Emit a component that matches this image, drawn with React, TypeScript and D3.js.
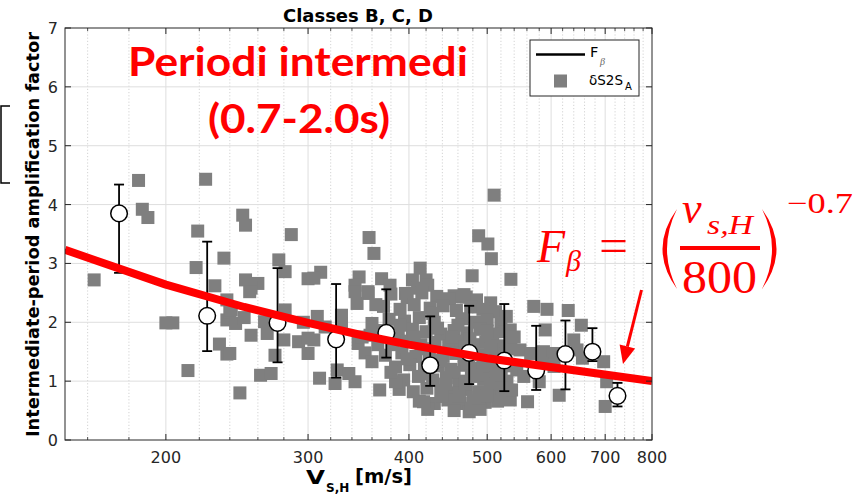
import React from "react";
import * as d3 from "d3";

// ---------- data ----------
const xTickValues = [200, 300, 400, 500, 600, 700, 800];
const xMinorValues = [160, 180, 220, 240, 260, 280, 320, 340, 360, 380, 420, 440, 460, 480,
  520, 540, 560, 580, 620, 640, 660, 680, 720, 740, 760, 780];
const yTickValues = [0, 1, 2, 3, 4, 5, 6, 7];

const binVs = [175, 225, 275, 325, 375, 425, 475, 525, 575, 625, 675, 725];
const binMean = [3.85, 2.11, 1.99, 1.71, 1.82, 1.27, 1.48, 1.35, 1.18, 1.46, 1.5, 0.75];
const binLow = [2.84, 1.51, 1.32, 1.06, 1.4, 0.92, 0.95, 0.83, 0.85, 0.86, 1.34, 0.57];
const binHigh = [4.34, 3.37, 2.92, 2.65, 2.56, 2.1, 2.28, 2.31, 1.94, 2.03, 1.9, 0.97];

const curveVs = [150, 200, 250, 300, 350, 400, 450, 500, 800];
const curveF = [3.23, 2.64, 2.26, 1.99, 1.78, 1.62, 1.5, 1.39, 1.0];

const leftGroup: [number, number][] = [
  [163, 2.72], [185, 4.41], [224, 4.43], [187, 3.92], [190, 3.78], [219, 3.55], [236, 3.09],
  [218, 2.93], [230, 2.62], [238, 2.38], [200, 1.99], [204, 1.99], [238, 2.04], [233, 1.63],
  [238, 1.46], [213, 1.18], [240, 2.18], [244, 1.98], [249, 3.82], [251, 3.65], [286, 3.49],
  [276, 3.06], [281, 2.86], [251, 2.72], [260, 2.66], [255, 2.58], [254, 2.52], [241, 2.21],
  [255, 1.78], [240, 1.47], [265, 2.01], [250, 2.08], [281, 2.21], [267, 1.81], [280, 1.7],
  [273, 1.44], [262, 1.1], [270, 1.13], [247, 0.8],
];

const midGroup: [number, number][] = [
  [292, 1.67], [300, 1.47], [308, 2.1], [305, 1.7], [315, 1.92], [296, 2.0], [300, 1.73],
  [300, 2.74], [311, 2.85], [305, 2.75], [310, 1.05], [324, 0.96], [326, 1.19], [337, 1.13],
  [343, 0.99], [330, 1.98], [330, 2.12], [357, 3.44], [362, 3.17], [347, 2.77], [343, 2.63],
  [356, 2.52], [343, 2.52], [356, 2.49], [345, 2.32], [364, 2.3], [353, 1.48], [360, 1.33],
  [360, 1.98], [346, 1.64], [358, 1.78], [366, 1.62], [350, 1.75],
  [370, 2.74], [379, 2.63], [404, 2.72], [420, 2.72], [410, 2.58], [422, 2.63], [396, 2.49],
  [413, 2.92], [460, 2.43], [471, 2.43], [455, 2.45], [479, 2.79], [510, 4.16], [488, 3.47],
  [501, 3.33], [506, 3.08], [535, 2.73],
];

const denseGroup: [number, number][] = [
  [380, 2.48], [398, 2.42], [415, 2.5], [433, 2.44], [449, 2.4], [468, 2.47], [485, 2.38], [505, 2.33],
  [372, 2.27], [390, 2.22], [406, 2.3], [425, 2.24], [441, 2.28], [458, 2.2], [477, 2.26], [494, 2.22], [512, 2.18], [528, 2.1],
  [378, 2.05], [395, 2.02], [412, 2.08], [430, 2.0], [465, 2.06], [484, 2.0], [500, 2.04], [520, 1.98],
  [371, 1.86], [388, 1.82], [404, 1.88], [420, 1.84], [438, 1.8], [455, 1.86], [472, 1.82], [490, 1.88], [508, 1.8], [526, 1.84],
  [382, 1.62], [398, 1.68], [414, 1.62], [431, 1.66], [448, 1.6], [464, 1.68], [481, 1.62], [498, 1.66], [516, 1.6], [535, 1.64],
  [374, 1.44], [392, 1.48], [408, 1.42], [424, 1.46], [441, 1.42], [457, 1.47], [474, 1.4], [491, 1.45], [509, 1.42], [527, 1.46],
  [385, 1.24], [401, 1.28], [418, 1.22], [435, 1.26], [451, 1.2], [468, 1.27], [485, 1.22], [502, 1.24], [520, 1.2], [538, 1.26],
  [394, 1.02], [411, 1.08], [428, 1.02], [445, 1.06], [461, 1.0], [478, 1.08], [495, 1.03], [512, 1.06], [529, 1.0],
  [389, 0.86], [405, 0.82], [421, 0.88], [438, 0.84], [455, 0.8], [471, 0.86], [488, 0.82], [505, 0.86], [522, 0.84],
  [412, 0.66], [430, 0.62], [447, 0.68], [463, 0.62], [480, 0.66], [497, 0.64], [515, 0.66],
  [422, 0.52], [455, 0.5], [475, 0.48], [490, 0.52],
  [368, 0.85], [385, 0.99], [417, 0.65], [478, 0.54], [534, 0.68], [536, 0.85],
];

const fillGroup: [number, number][] = [
  [390, 1.95], [406, 1.75], [422, 1.55], [438, 1.35], [455, 1.15], [470, 0.95], [488, 0.72],
  [505, 1.55], [460, 1.95], [476, 1.72], [494, 1.32], [512, 0.95], [428, 2.15], [444, 0.95],
  [420, 1.12], [398, 1.38], [380, 1.15], [500, 1.85], [516, 1.35], [470, 1.58], [452, 1.75],
  [434, 1.9], [485, 1.1], [462, 0.74], [440, 0.74], [500, 0.75], [520, 1.1], [530, 1.55],
];

const rightGroup: [number, number][] = [
  [571, 2.27], [593, 2.22], [630, 2.2], [654, 1.95], [534, 1.87], [540, 1.75], [590, 1.87],
  [549, 1.53], [566, 1.47], [587, 1.5], [604, 1.47], [640, 1.7], [646, 1.53], [656, 1.39],
  [697, 1.33], [703, 0.99], [544, 1.19], [555, 1.08], [580, 0.99], [614, 0.76], [561, 0.65],
  [700, 0.57], [585, 1.3], [605, 1.25],
];

// ---------- chart ----------
const AXIS = "#262626";
const FONT = "DejaVu Sans, sans-serif";
const SERIF = "Liberation Serif, Times New Roman, serif";

export default function App() {
  const x = d3.scaleLog().domain([150, 800]).range([65, 652]);
  const y = d3.scaleLinear().domain([0, 7]).range([440, 28]);
  const [x0, x1] = x.range();
  const [y0, y1] = y.range();

  const line = d3.line<[number, number]>().x((d) => x(d[0])).y((d) => y(d[1]));
  const curve: [number, number][] = curveVs.map((v, i) => [v, curveF[i]]);
  const squares = [...leftGroup, ...midGroup, ...denseGroup, ...fillGroup, ...rightGroup];
  const sq = 13;

  // arrow geometry
  const aStart = [641.5, 290];
  const aTip = [623, 364];
  const dx = aTip[0] - aStart[0], dy = aTip[1] - aStart[1];
  const len = Math.hypot(dx, dy);
  const ux = dx / len, uy = dy / len;
  const hl = 18, hw = 8;
  const bx = aTip[0] - ux * hl, by = aTip[1] - uy * hl;
  const head = `M${aTip[0]},${aTip[1]} L${bx + uy * hw},${by - ux * hw} L${bx - uy * hw},${by + ux * hw} Z`;

  return (
    <svg width={866} height={494} style={{ position: "absolute", left: 0, top: 0, background: "#fff" }}
      xmlns="http://www.w3.org/2000/svg">
      <defs>
        <clipPath id="plotclip">
          <rect x={x0} y={y1} width={x1 - x0} height={y0 - y1} />
        </clipPath>
      </defs>
      <rect x={0} y={0} width={866} height={494} fill="#fff" />

      {/* grid */}
      {xMinorValues.map((v) => (
        <line key={"mg" + v} x1={x(v)} x2={x(v)} y1={y1} y2={y0} stroke="#c8c8c8" strokeWidth={0.8} strokeDasharray="1.2,2" />
      ))}
      {xTickValues.filter((v) => v < 800).map((v) => (
        <line key={"g" + v} x1={x(v)} x2={x(v)} y1={y1} y2={y0} stroke="#dedede" strokeWidth={1} />
      ))}
      {yTickValues.filter((v) => v > 0 && v < 7).map((v) => (
        <line key={"gy" + v} x1={x0} x2={x1} y1={y(v)} y2={y(v)} stroke="#dedede" strokeWidth={1} />
      ))}

      <g clipPath="url(#plotclip)">
        {squares.map((d, i) => (
          <rect key={"s" + i} x={x(d[0]) - sq / 2} y={y(d[1]) - sq / 2} width={sq} height={sq} fill="#7f7f7f" />
        ))}
        <path d={line(curve) || ""} fill="none" stroke="#000" strokeWidth={2} />
        {binVs.map((v, i) => (
          <g key={"e" + i} stroke="#000" strokeWidth={1.8}>
            <line x1={x(v)} x2={x(v)} y1={y(binLow[i])} y2={y(binHigh[i])} />
            <line x1={x(v) - 5} x2={x(v) + 5} y1={y(binLow[i])} y2={y(binLow[i])} />
            <line x1={x(v) - 5} x2={x(v) + 5} y1={y(binHigh[i])} y2={y(binHigh[i])} />
          </g>
        ))}
        {binVs.map((v, i) => (
          <circle key={"c" + i} cx={x(v)} cy={y(binMean[i])} r={8.3} fill="#fff" stroke="#000" strokeWidth={1.5} />
        ))}
        <path d={line(curve) || ""} fill="none" stroke="#ff0000" strokeWidth={8} strokeLinejoin="round" />
      </g>

      {/* axes box and ticks */}
      <rect x={x0} y={y1} width={x1 - x0} height={y0 - y1} fill="none" stroke={AXIS} strokeWidth={1} />
      {xTickValues.map((v) => (
        <g key={"xt" + v} stroke={AXIS} strokeWidth={1}>
          <line x1={x(v)} x2={x(v)} y1={y0} y2={y0 - 6} />
          <line x1={x(v)} x2={x(v)} y1={y1} y2={y1 + 6} />
        </g>
      ))}
      {xMinorValues.map((v) => (
        <g key={"xm" + v} stroke={AXIS} strokeWidth={0.8}>
          <line x1={x(v)} x2={x(v)} y1={y0} y2={y0 - 3} />
          <line x1={x(v)} x2={x(v)} y1={y1} y2={y1 + 3} />
        </g>
      ))}
      {yTickValues.map((v) => (
        <g key={"yt" + v} stroke={AXIS} strokeWidth={1}>
          <line x1={x0} x2={x0 + 6} y1={y(v)} y2={y(v)} />
          <line x1={x1} x2={x1 - 6} y1={y(v)} y2={y(v)} />
        </g>
      ))}
      {xTickValues.map((v) => (
        <text key={"xl" + v} x={x(v)} y={463} textAnchor="middle" fontFamily={FONT} fontSize={16} fill={AXIS}>
          {d3.format("d")(v)}
        </text>
      ))}
      {yTickValues.map((v) => (
        <text key={"yl" + v} x={58} y={y(v) + 6} textAnchor="end" fontFamily={FONT} fontSize={16} fill={AXIS}>
          {v}
        </text>
      ))}

      {/* titles */}
      <text x={358} y={22} textAnchor="middle" fontFamily={FONT} fontSize={17} fontWeight="bold" fill="#000"
        textLength={150} lengthAdjust="spacingAndGlyphs">Classes B, C, D</text>
      <text transform="translate(39,234.5) rotate(-90)" textAnchor="middle" fontFamily={FONT} fontSize={17.5}
        fontWeight="bold" fill="#000" textLength={405} lengthAdjust="spacingAndGlyphs">
        Intermediate-period amplification factor
      </text>
      <text x={306} y={484} fontFamily={FONT} fontSize={20} fontWeight="bold" fill="#000"
        textLength={19} lengthAdjust="spacingAndGlyphs">V</text>
      <text x={326} y={492} fontFamily={FONT} fontSize={12} fontWeight="bold" fill="#000">S,H</text>
      <text x={355} y={483} fontFamily={FONT} fontSize={19} fontWeight="bold" fill="#000"
        textLength={57} lengthAdjust="spacingAndGlyphs">[m/s]</text>

      {/* legend */}
      <rect x={530} y={40} width={109} height={56} fill="#fff" stroke={AXIS} strokeWidth={1} />
      <line x1={536} x2={585} y1={54.5} y2={54.5} stroke="#000" strokeWidth={2.5} />
      <text x={590} y={57} fontFamily={FONT} fontSize={14.5} fill="#000">F</text>
      <text x={600} y={65} fontFamily={SERIF} fontStyle="italic" fontSize={10} fill="#666">β</text>
      <rect x={554} y={74.5} width={13} height={13} fill="#7f7f7f" />
      <text x={589} y={85} fontFamily={FONT} fontSize={13.5} fill="#000">δS2S</text>
      <text x={625} y={90} fontFamily={FONT} fontSize={10} fill="#000">A</text>

      {/* left bracket */}
      <path d="M10,106 H1 V183 H10" fill="none" stroke="#000" strokeWidth={1.5} />

      {/* red annotations */}
      <text x={128} y={76} fontFamily="Lato, Carlito, sans-serif" fontWeight="bold" fontSize={40} fill="#ff0000"
        textLength={340} lengthAdjust="spacingAndGlyphs">Periodi intermedi</text>
      <text x={208} y={133} fontFamily="Lato, Carlito, sans-serif" fontWeight="bold" fontSize={40} fill="#ff0000"
        textLength={182} lengthAdjust="spacingAndGlyphs">(0.7-2.0s)</text>

      <g fill="#ff0000" fontFamily={SERIF}>
        <text x={537} y={262} fontStyle="italic" fontSize={46}>F</text>
        <text x={566} y={271} fontStyle="italic" fontSize={30}>β</text>
        <text x={599} y={261} fontSize={46} textLength={29} lengthAdjust="spacingAndGlyphs">=</text>
        <path d="M677,209 Q648,249 677,289 Q657,249 677,209 Z" />
        <text x={682} y={223} fontStyle="italic" fontSize={44}>v</text>
        <text x={707} y={234} fontStyle="italic" fontSize={27} textLength={46} lengthAdjust="spacingAndGlyphs">s,H</text>
        <rect x={680} y={246} width={80} height={4} />
        <text x={682} y={293} fontSize={46} textLength={75} lengthAdjust="spacingAndGlyphs">800</text>
        <path d="M762,209 Q791,249 762,289 Q782,249 762,209 Z" />
        <text x={787} y={213} fontSize={29} textLength={66} lengthAdjust="spacingAndGlyphs">−0.7</text>
      </g>
      <line x1={aStart[0]} y1={aStart[1]} x2={bx} y2={by} stroke="#ff0000" strokeWidth={3} />
      <path d={head} fill="#ff0000" />
    </svg>
  );
}
